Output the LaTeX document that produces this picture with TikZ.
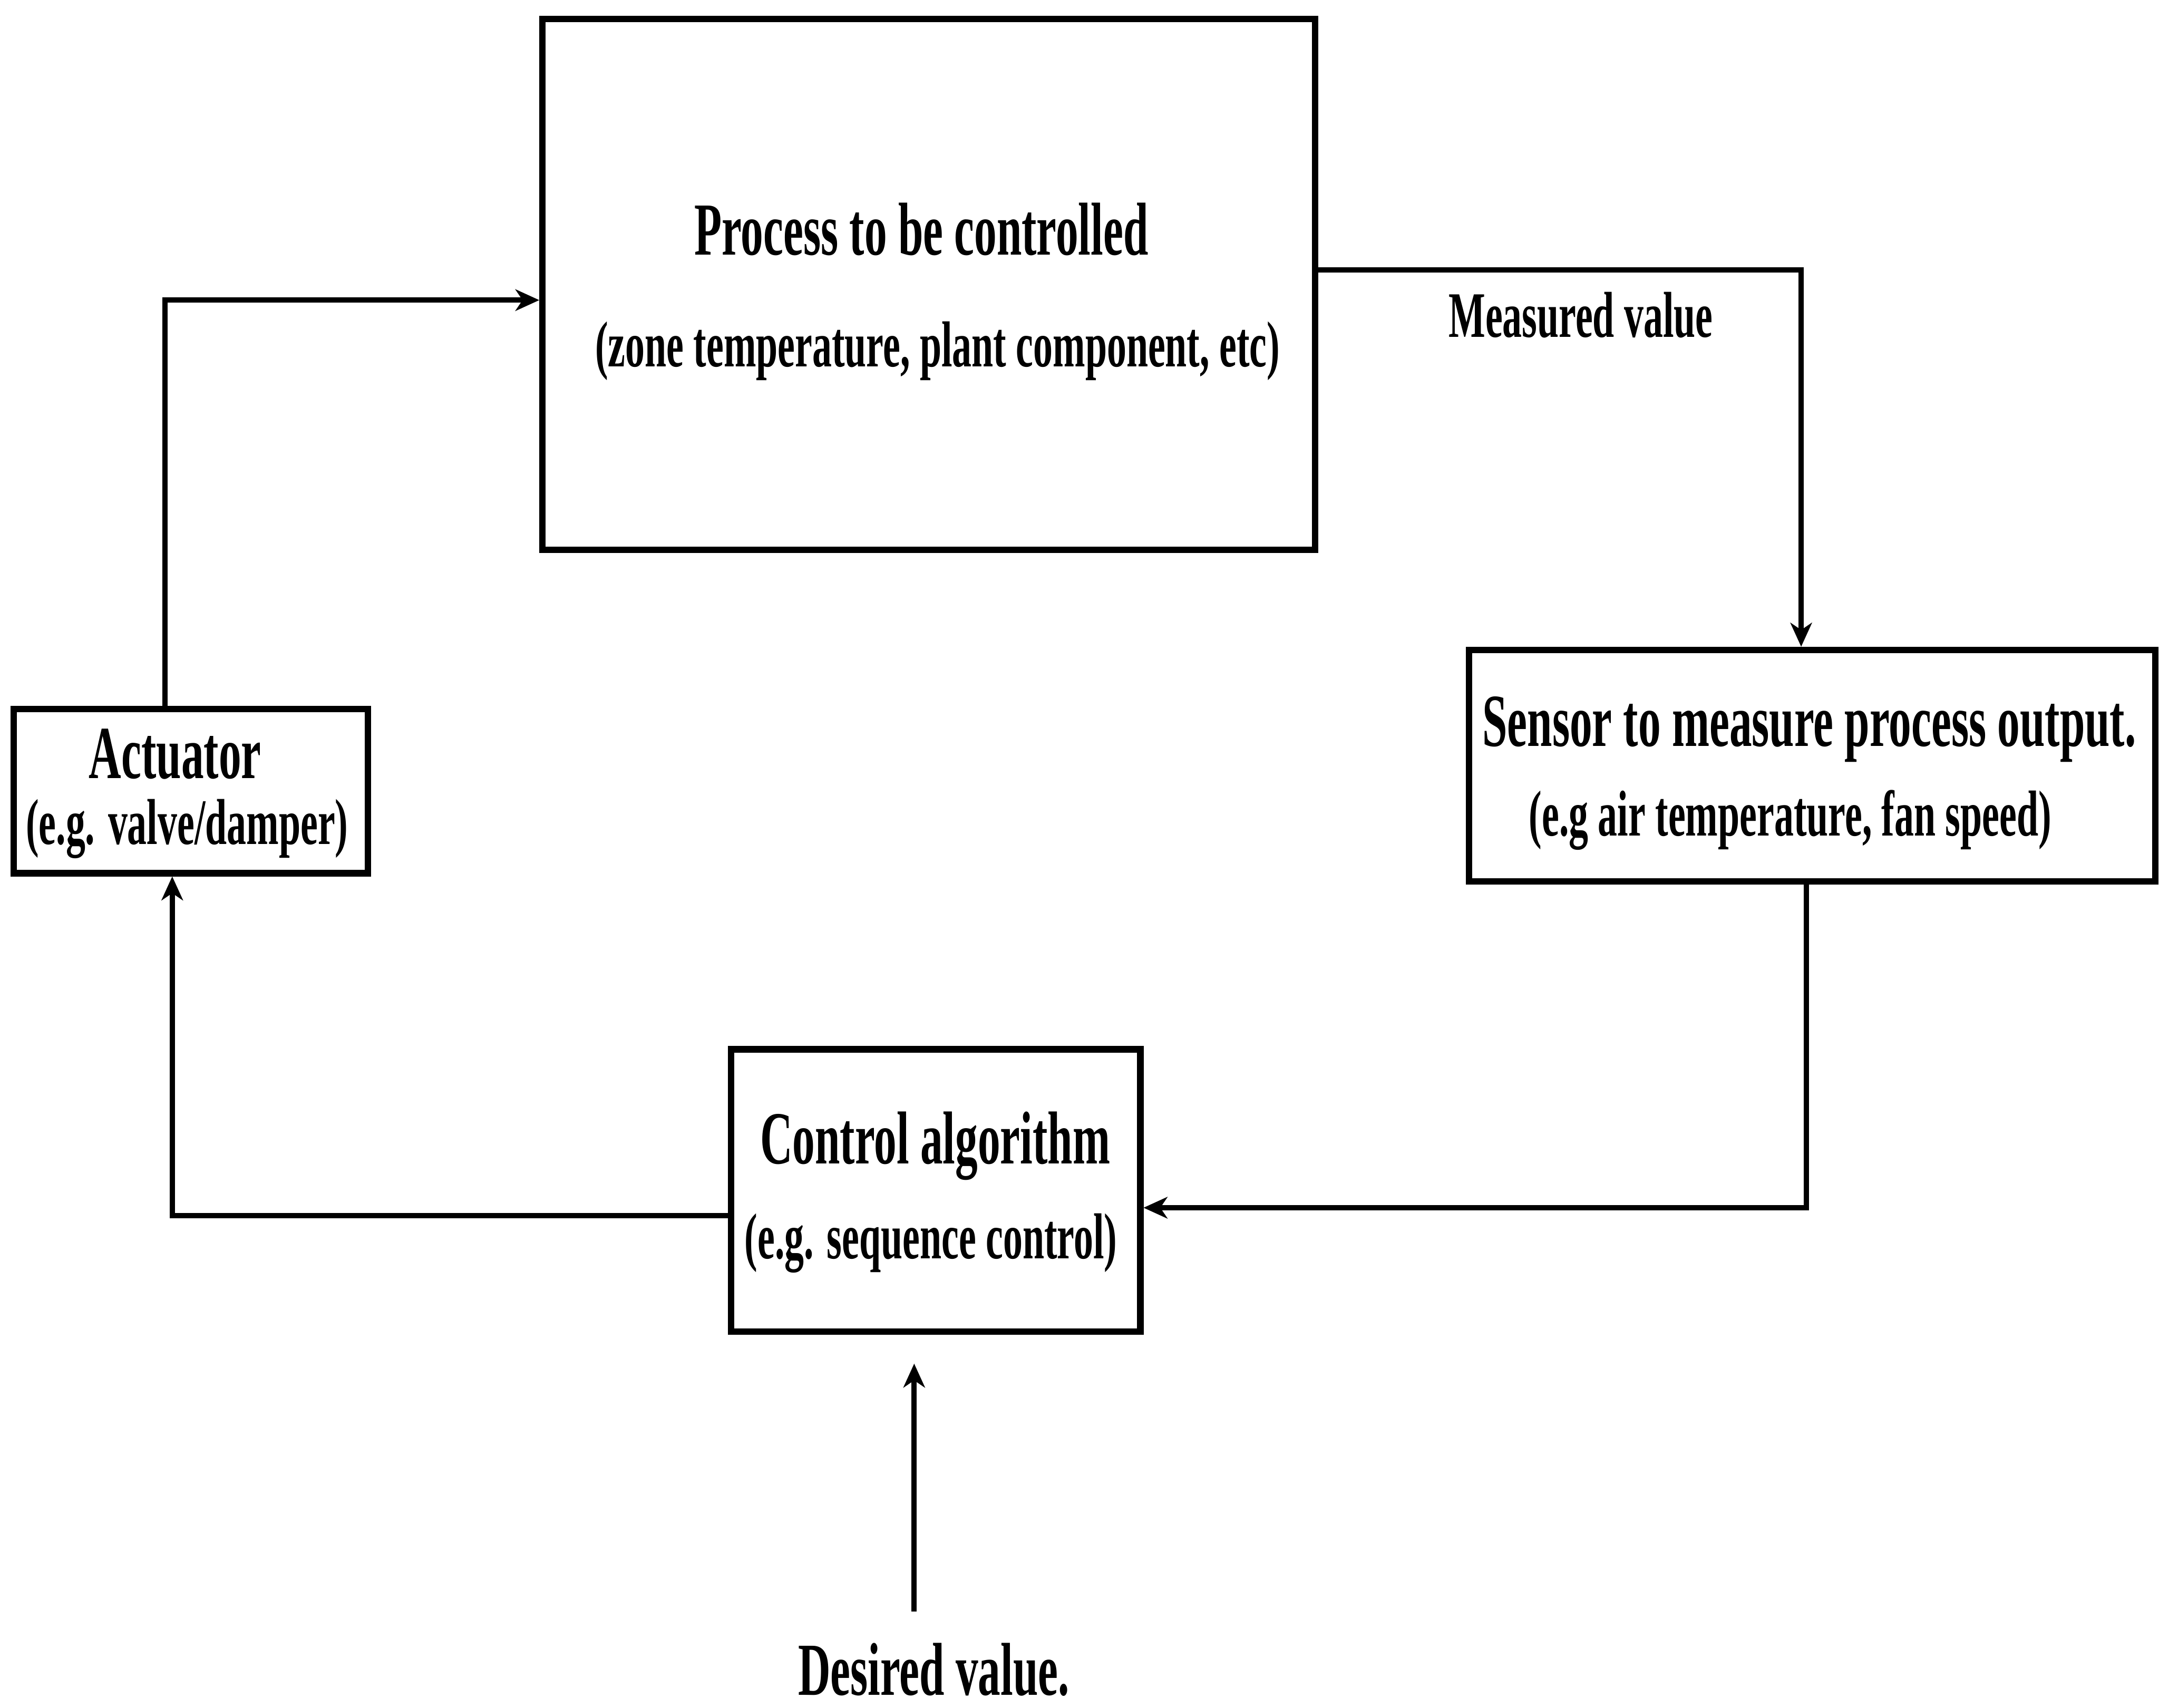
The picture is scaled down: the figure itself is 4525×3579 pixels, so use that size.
\documentclass[tikz,border=0pt]{standalone}
\usepackage{fontspec}
\setmainfont{Liberation Serif}[FakeStretch=0.6]
\usetikzlibrary{arrows.meta}
\begin{document}
\begin{tikzpicture}[x=0.1pt,y=-0.1pt,
  blk/.style={draw=black,line width=1.35pt,rectangle,inner sep=0pt},
  conn/.style={draw=black,line width=1.1pt,-{Stealth[length=5pt,width=4.5pt,inset=1.5pt]}},
  big/.style={anchor=base,inner sep=0pt,font=\fontsize{15.7pt}{18pt}\selectfont\bfseries},
  small/.style={anchor=base,inner sep=0pt,font=\fontsize{13.6pt}{16pt}\selectfont\bfseries}]
\useasboundingbox (0,0) rectangle (4525,3579);

% blocks
\node[blk,minimum width=161.9pt,minimum height=111.2pt] (proc) at (1946.5,596) {};
\node[blk,minimum width=74.2pt,minimum height=34.4pt] (act) at (400,1658) {};
\node[blk,minimum width=143.8pt,minimum height=48.5pt] (sens) at (3798,1604.5) {};
\node[blk,minimum width=85.8pt,minimum height=59.2pt] (ctrl) at (1961,2495) {};

% labels
\node[big] (proct) at (1931,534) {Process to be controlled};
\node[small] (procs) at (1965,768) {(zone temperature, plant component, etc)};
\node[small] (meas) at (3313,707) {Measured value};
\node[big] (actt) at (367,1631) {Actuator};
\node[small] (acts) at (392,1769) {(e.g. valve/damper)};
\node[big] (senst) at (3792,1564) {Sensor to measure process output.};
\node[small] (senss) at (3752,1752) {(e.g air temperature, fan speed)};
\node[big] (ctrlt) at (1960,2439) {Control algorithm};
\node[small] (ctrls) at (1951,2638) {(e.g. sequence control)};
\node[big] (des) at (1957,3552) {Desired value.};

% loop connectors
\draw[conn] (346,0 |- act.north) |- (proc.west |- 0,629);
\draw[conn] (proc.east |- 0,566) -| (3775,0 |- sens.north);
\draw[conn] (3786,0 |- sens.south) |- (ctrl.east |- 0,2531);
\draw[conn] (ctrl.west |- 0,2548) -| (361,0 |- act.south);

% set point input
\coordinate (dvtail) at (1916,3377);
\draw[conn,shorten >=6pt] (dvtail) -- (dvtail |- ctrl.south);
\end{tikzpicture}
\end{document}
